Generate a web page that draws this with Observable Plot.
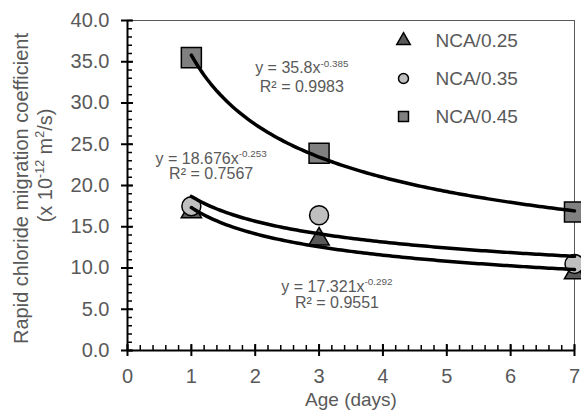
<!DOCTYPE html>
<html><head><meta charset="utf-8">
<script src="https://cdn.jsdelivr.net/npm/d3@7"></script>
<script src="https://cdn.jsdelivr.net/npm/@observablehq/plot@0.6"></script>
<style>
body{margin:0;background:#fff;}
svg{font-family:"Liberation Sans",Arial,sans-serif;}
</style>
</head><body><div id="chart"></div>
<script>
// ---- data ----
const ages = [1, 3, 7];
const seriesNames = ["NCA/0.25", "NCA/0.35", "NCA/0.45"];
const nca025 = [16.8, 13.5, 9.4];
const nca035 = [17.5, 16.4, 10.5];
const nca045 = [35.5, 23.9, 16.8];
const fitCoef = [17.321, 18.676, 35.8];
const fitExp = [-0.292, -0.253, -0.385];
const fitR2 = ["0.9551", "0.7567", "0.9983"];
const xTicks = [0, 1, 2, 3, 4, 5, 6, 7];
const yTicks = [0, 5, 10, 15, 20, 25, 30, 35, 40];
const xMinor = d3.range(0, 7.0001, 0.2).map(v => +v.toFixed(1));
const yMinor = d3.range(0, 41, 1);
// equation label anchors (data coordinates) for each series
const eqX = [3.28, 1.31, 2.73];
const eqY = [7.76, 23.27, 34.2];
const r2Y = [5.82, 21.45, 31.9];

// ---- build tables ----
const values = [nca025, nca035, nca045];
const points = seriesNames.flatMap((s, i) => ages.map((a, j) => ({series: s, age: a, value: values[i][j]})));
const curveX = d3.range(1, 7.0001, 0.05);
const curves = seriesNames.flatMap((s, i) => curveX.map(x => ({series: s, age: x, value: fitCoef[i] * Math.pow(x, fitExp[i])})));
const eqLabels = seriesNames.map((s, i) => ({x: eqX[i], y: eqY[i], text: `y = ${fitCoef[i]}x^{${fitExp[i]}}`}));
const r2Labels = seriesNames.map((s, i) => ({x: eqX[i], y: r2Y[i], text: `R² = ${fitR2[i]}`}));

const sym = ["triangle", "circle", "square"];
const fills = ["#595959", "#bfbfbf", "#808080"];
const radii = [7.5, 9.5, 11.3];
const legR = [5, 5, 5.6];
const textColor = "#595959";
const legendSpacing = 38;

const marks = [
  Plot.frame({stroke: "#595959", strokeWidth: 1}),
  // minor ticks (inward)
  Plot.axisX({ticks: xMinor, tickSize: 5, dy: -5, text: null, label: null, stroke: "black", strokeWidth: 1.5}),
  Plot.axisY({ticks: yMinor, tickSize: 5, dx: 5, text: null, label: null, stroke: "black", strokeWidth: 1.5}),
  // major ticks (crossing)
  Plot.axisX({ticks: xTicks, tickSize: 12, dy: -6, text: null, label: null, stroke: "black", strokeWidth: 2}),
  Plot.axisY({ticks: yTicks, tickSize: 12, dx: 6, text: null, label: null, stroke: "black", strokeWidth: 2}),
  // tick labels
  Plot.axisX({ticks: xTicks, tickSize: 0, tickPadding: 18, label: null, fill: textColor, fontSize: 20, tickFormat: d3.format("d")}),
  Plot.axisY({ticks: yTicks, tickSize: 0, tickPadding: 18, label: null, fill: textColor, fontSize: 20, tickFormat: d3.format(".1f")}),
  Plot.ruleX([0], {stroke: "black", strokeWidth: 2}),
  Plot.ruleY([0], {stroke: "black", strokeWidth: 2}),
  // points
  ...seriesNames.map((s, i) => Plot.dot(points.filter(d => d.series === s), {
    x: "age", y: "value", symbol: () => sym[i], r: radii[i], fill: fills[i], stroke: "black", strokeWidth: 1.5
  })),
  // trend lines
  Plot.line(curves, {x: "age", y: "value", z: "series", stroke: "black", strokeWidth: 3.5}),
  // equations
  Plot.text(eqLabels, {x: "x", y: "y", text: "text", fill: textColor, fontSize: 16}),
  Plot.text(r2Labels, {x: "x", y: "y", text: "text", fill: textColor, fontSize: 16}),
  // legend
  ...seriesNames.map((s, i) => Plot.dot([s], {
    frameAnchor: "top-left", dx: 276, dy: 20 + i * legendSpacing,
    symbol: () => sym[i], r: legR[i], fill: fills[i], stroke: "black", strokeWidth: 1.5
  })),
  ...seriesNames.map((s, i) => Plot.text([s], {
    frameAnchor: "top-left", dx: 308, dy: 20 + i * legendSpacing, text: d => d,
    textAnchor: "start", lineAnchor: "middle", fill: textColor, fontSize: 19
  })),
  // axis titles
  Plot.text(["Age (days)"], {frameAnchor: "bottom", dy: 55, text: d => d, fill: textColor, fontSize: 19}),
  Plot.text(["Rapid chloride migration coefficient"], {frameAnchor: "left", textAnchor: "middle", dx: -106, dy: 3, rotate: -90, text: d => d, fill: textColor, fontSize: 20}),
  Plot.text(["(x 10^{-12} m^{2}/s)"], {frameAnchor: "left", textAnchor: "middle", dx: -82, dy: -20, rotate: -90, text: d => d, fill: textColor, fontSize: 20})
];

const chart = Plot.plot({
  width: 581,
  height: 416,
  marginLeft: 127,
  marginRight: 7,
  marginTop: 20,
  marginBottom: 66,
  x: {domain: [0, 7]},
  y: {domain: [0, 40]},
  marks
});
document.getElementById("chart").appendChild(chart);

// superscripts: rewrite "^{...}" into raised tspans
d3.select(chart).selectAll("text").each(function() {
  const t = this.textContent;
  if (!t.includes("^{")) return;
  const fs = parseFloat(getComputedStyle(this).fontSize) || 16;
  const parts = t.split(/(\^\{[^}]*\})/).filter(p => p.length);
  const sel = d3.select(this);
  sel.text(null);
  let raised = false;
  parts.forEach(p => {
    if (p.startsWith("^{")) {
      sel.append("tspan").attr("font-size", (fs * 0.62).toFixed(1)).attr("dy", (-fs * 0.42).toFixed(1)).text(p.slice(2, -1));
      raised = true;
    } else {
      const ts = sel.append("tspan").text(p);
      if (raised) { ts.attr("dy", (fs * 0.42).toFixed(1)); raised = false; }
    }
  });
});
</script>
</body></html>
